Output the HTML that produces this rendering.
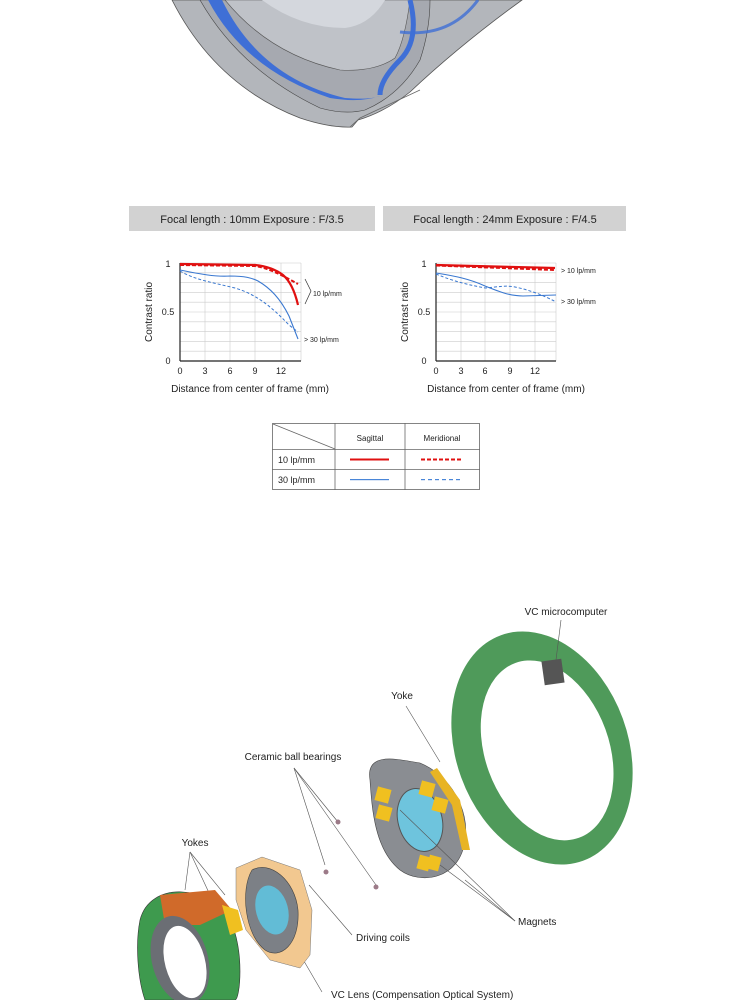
<!DOCTYPE html>
<html><head><style>
body{margin:0;background:#fff;}
svg{display:block;font-family:"Liberation Sans",sans-serif;}
</style></head><body>
<svg width="750" height="1000" viewBox="0 0 750 1000">
<!-- top lens -->
<path d="M172,0 Q215,85 300,118 Q330,128 352,127 L358,120 Q385,112 410,92 Q460,45 522,0 Z" fill="#b3b6bb" stroke="#555" stroke-width="0.8"/>
<path d="M200,0 Q240,70 320,108 Q345,115 365,110 Q400,95 420,60 Q430,30 430,0 Z" fill="#a6a9b0" stroke="#444" stroke-width="0.6"/>
<path d="M208,0 Q245,70 330,98 Q360,103 380,96 Q370,100 345,98 Q260,78 222,0 Z" fill="#3f6fd6"/>
<path d="M225,0 Q270,55 340,70 Q375,72 395,58 Q405,40 410,0 Z" fill="#bfc2c8" stroke="#555" stroke-width="0.6"/>
<path d="M262,0 Q300,28 345,28 Q370,25 385,0 Z" fill="#d4d7dd"/>
<path d="M410,0 Q420,40 400,60 Q380,80 380,95" fill="none" stroke="#3f6fd6" stroke-width="5"/>
<path d="M400,32 Q450,38 478,0" fill="none" stroke="#3f6fd6" stroke-width="3" opacity="0.8"/>
<path d="M350,127 L360,118 L420,90" fill="none" stroke="#666" stroke-width="0.8"/>

<!-- headers -->
<rect x="129" y="206" width="246" height="25" fill="#d2d2d2"/>
<rect x="383" y="206" width="243" height="25" fill="#d2d2d2"/>
<text x="252" y="223" font-size="11" text-anchor="middle" fill="#222">Focal length : 10mm  Exposure : F/3.5</text>
<text x="505" y="223" font-size="11" text-anchor="middle" fill="#222">Focal length : 24mm  Exposure : F/4.5</text>

<!-- chart 1 -->
<g stroke="#ccc" stroke-width="0.6">
<line x1="180" y1="272.8" x2="301" y2="272.8"/><line x1="180" y1="282.6" x2="301" y2="282.6"/><line x1="180" y1="292.4" x2="301" y2="292.4"/><line x1="180" y1="302.2" x2="301" y2="302.2"/><line x1="180" y1="312" x2="301" y2="312"/><line x1="180" y1="321.8" x2="301" y2="321.8"/><line x1="180" y1="331.6" x2="301" y2="331.6"/><line x1="180" y1="341.4" x2="301" y2="341.4"/><line x1="180" y1="351.2" x2="301" y2="351.2"/>
<line x1="205" y1="263" x2="205" y2="361"/><line x1="230" y1="263" x2="230" y2="361"/><line x1="255" y1="263" x2="255" y2="361"/><line x1="281" y1="263" x2="281" y2="361"/><line x1="301" y1="263" x2="301" y2="361"/>
<line x1="180" y1="263" x2="301" y2="263"/>
</g>
<g stroke="#222" stroke-width="1.2"><line x1="180" y1="263" x2="180" y2="361"/><line x1="180" y1="361" x2="301" y2="361"/></g>
<path d="M180,264 L255,265 C265,266 275,269 283,275 C290,281 295,292 298,305" fill="none" stroke="#e01010" stroke-width="2.2"/>
<path d="M180,265 L255,266 C268,268 280,274 298,284" fill="none" stroke="#e01010" stroke-width="2" stroke-dasharray="4,2"/>
<path d="M180,270 C200,274 215,277 230,276 C245,276 252,278 258,281 C270,288 280,298 289,316 L298,339" fill="none" stroke="#3a78d0" stroke-width="1.1"/>
<path d="M180,271 C195,280 215,283 235,288 C255,294 270,305 289,325 L298,332" fill="none" stroke="#3a78d0" stroke-width="1" stroke-dasharray="3,2"/>
<path d="M305,279 L311,291 L305,304" fill="none" stroke="#333" stroke-width="0.7"/>
<text x="313" y="296" font-size="7" fill="#222">10 lp/mm</text>
<text x="304" y="342" font-size="7" fill="#222">&gt; 30 lp/mm</text>
<g font-size="9" fill="#222" text-anchor="middle">
<text x="168" y="267">1</text><text x="168" y="315">0.5</text><text x="168" y="364">0</text>
<text x="180" y="374">0</text><text x="205" y="374">3</text><text x="230" y="374">6</text><text x="255" y="374">9</text><text x="281" y="374">12</text>
<text x="250" y="392" font-size="10">Distance from center of frame (mm)</text>
<text transform="translate(152,312) rotate(-90)" font-size="10">Contrast ratio</text>
</g>

<!-- chart 2 -->
<g stroke="#ccc" stroke-width="0.6">
<line x1="436" y1="272.8" x2="556" y2="272.8"/><line x1="436" y1="282.6" x2="556" y2="282.6"/><line x1="436" y1="292.4" x2="556" y2="292.4"/><line x1="436" y1="302.2" x2="556" y2="302.2"/><line x1="436" y1="312" x2="556" y2="312"/><line x1="436" y1="321.8" x2="556" y2="321.8"/><line x1="436" y1="331.6" x2="556" y2="331.6"/><line x1="436" y1="341.4" x2="556" y2="341.4"/><line x1="436" y1="351.2" x2="556" y2="351.2"/>
<line x1="461" y1="263" x2="461" y2="361"/><line x1="485" y1="263" x2="485" y2="361"/><line x1="510" y1="263" x2="510" y2="361"/><line x1="535" y1="263" x2="535" y2="361"/><line x1="556" y1="263" x2="556" y2="361"/>
<line x1="436" y1="263" x2="556" y2="263"/>
</g>
<g stroke="#222" stroke-width="1.2"><line x1="436" y1="263" x2="436" y2="361"/><line x1="436" y1="361" x2="556" y2="361"/></g>
<path d="M436,265 L555,268" fill="none" stroke="#e01010" stroke-width="2.2"/>
<path d="M436,265.5 L555,270" fill="none" stroke="#e01010" stroke-width="2" stroke-dasharray="4,2"/>
<path d="M436,273 C455,276 470,279 485,286 C500,292 510,296 523,296 L556,295" fill="none" stroke="#3a78d0" stroke-width="1.1"/>
<path d="M436,274 C455,282 470,285 485,288 C498,287 505,285 515,287 C530,290 545,296 556,302" fill="none" stroke="#3a78d0" stroke-width="1" stroke-dasharray="3,2"/>
<text x="561" y="273" font-size="7" fill="#222">&gt; 10 lp/mm</text>
<text x="561" y="304" font-size="7" fill="#222">&gt; 30 lp/mm</text>
<g font-size="9" fill="#222" text-anchor="middle">
<text x="424" y="267">1</text><text x="424" y="315">0.5</text><text x="424" y="364">0</text>
<text x="436" y="374">0</text><text x="461" y="374">3</text><text x="485" y="374">6</text><text x="510" y="374">9</text><text x="535" y="374">12</text>
<text x="506" y="392" font-size="10">Distance from center of frame (mm)</text>
<text transform="translate(408,312) rotate(-90)" font-size="10">Contrast ratio</text>
</g>

<!-- legend table -->
<g stroke="#666" stroke-width="0.8" fill="none">
<rect x="272.5" y="423.5" width="207" height="66"/>
<line x1="335" y1="423" x2="335" y2="490"/><line x1="405" y1="423" x2="405" y2="490"/>
<line x1="272" y1="449.5" x2="480" y2="449.5"/><line x1="272" y1="469.5" x2="480" y2="469.5"/>
<line x1="273" y1="424" x2="335" y2="449"/>
</g>
<g font-size="8" fill="#222">
<text x="370" y="441" text-anchor="middle">Sagittal</text>
<text x="442" y="441" text-anchor="middle">Meridional</text>
<text x="278" y="463" font-size="9">10 lp/mm</text>
<text x="278" y="483" font-size="9">30 lp/mm</text>
</g>
<line x1="350" y1="459.5" x2="389" y2="459.5" stroke="#e01010" stroke-width="2"/>
<line x1="421" y1="459.5" x2="462" y2="459.5" stroke="#e01010" stroke-width="2" stroke-dasharray="4,2"/>
<rect x="350" y="479" width="39" height="1.2" fill="#4a86d8"/>
<g fill="#4a86d8"><rect x="421" y="479" width="4" height="1.2"/><rect x="428" y="479" width="4" height="1.2"/><rect x="435" y="479" width="4" height="1.2"/><rect x="442" y="479" width="4" height="1.2"/><rect x="449" y="479" width="4" height="1.2"/><rect x="456" y="479" width="4" height="1.2"/></g>

<!-- green ring -->
<g transform="rotate(-20 542 748)">
<ellipse cx="542" cy="748" rx="86" ry="120" fill="#4f9a5a"/>
<ellipse cx="546" cy="752" rx="62" ry="93" fill="#fff"/>
</g>
<rect x="543" y="660" width="20" height="24" fill="#555" transform="rotate(-8 553 672)"/>
<line x1="561" y1="620" x2="556" y2="660" stroke="#555" stroke-width="0.6"/>
<text x="566" y="615" font-size="10" fill="#222" text-anchor="middle">VC microcomputer</text>

<!-- yoke/magnet assembly -->
<path d="M370,780 C365,750 400,760 420,763 C450,775 470,810 465,840 C460,880 420,885 400,870 C375,850 372,810 370,780 Z" fill="#8a8d92" stroke="#444" stroke-width="0.6"/>
<path d="M437,768 L460,800 L470,850 L462,850 L452,805 L430,772 Z" fill="#e8b424"/>
<ellipse cx="420" cy="820" rx="22" ry="32" fill="#6ec4dd" stroke="#555" transform="rotate(-15 420 820)"/>
<rect x="376" y="788" width="14" height="14" fill="#f0c020" transform="rotate(15 383 795)"/>
<rect x="377" y="806" width="14" height="14" fill="#f0c020" transform="rotate(15 384 813)"/>
<rect x="420" y="782" width="14" height="14" fill="#f0c020" transform="rotate(15 427 789)"/>
<rect x="433" y="798" width="14" height="14" fill="#f0c020" transform="rotate(15 440 805)"/>
<rect x="418" y="856" width="12" height="14" fill="#f0c020" transform="rotate(15 424 863)"/>
<rect x="428" y="856" width="12" height="14" fill="#f0c020" transform="rotate(15 434 863)"/>
<line x1="406" y1="706" x2="440" y2="762" stroke="#555" stroke-width="0.6"/>
<text x="402" y="699" font-size="10" fill="#222" text-anchor="middle">Yoke</text>
<g stroke="#555" stroke-width="0.6">
<line x1="515" y1="921" x2="465" y2="880"/><line x1="515" y1="921" x2="440" y2="865"/><line x1="515" y1="921" x2="400" y2="810"/>
<line x1="294" y1="768" x2="325" y2="865"/><line x1="294" y1="768" x2="338" y2="822"/><line x1="294" y1="768" x2="376" y2="885"/>
<line x1="190" y1="852" x2="185" y2="890"/><line x1="190" y1="852" x2="210" y2="895"/><line x1="190" y1="852" x2="225" y2="895"/>
<line x1="309" y1="885" x2="352" y2="935"/>
<line x1="280" y1="920" x2="322" y2="992"/>
</g>
<circle cx="338" cy="822" r="2.5" fill="#9c7a88"/><circle cx="326" cy="872" r="2.5" fill="#9c7a88"/><circle cx="376" cy="887" r="2.5" fill="#9c7a88"/>
<text x="518" y="925" font-size="10" fill="#222">Magnets</text>
<text x="293" y="760" font-size="10" fill="#222" text-anchor="middle">Ceramic ball bearings</text>
<text x="195" y="846" font-size="10" fill="#222" text-anchor="middle">Yokes</text>
<text x="356" y="941" font-size="10" fill="#222">Driving coils</text>
<text x="331" y="998" font-size="10" fill="#222">VC Lens (Compensation Optical System)</text>

<!-- driving coil assembly -->
<path d="M236,868 L262,857 L300,870 L312,910 L310,955 L300,968 L270,960 L246,930 L236,900 Z" fill="#f2c890" stroke="#777" stroke-width="0.5"/>
<path d="M252,870 C270,860 295,880 298,910 C300,945 280,960 265,950 C245,935 240,890 252,870 Z" fill="#7c8086" stroke="#444" stroke-width="0.6"/>
<ellipse cx="272" cy="910" rx="16" ry="25" fill="#62bcd6" transform="rotate(-15 272 910)"/>
<!-- yokes assembly -->
<path d="M140,920 C150,880 210,885 230,920 C245,950 240,1000 235,1000 L145,1000 C138,980 135,945 140,920 Z" fill="#3e9a4e" stroke="#333" stroke-width="0.6"/>
<path d="M160,895 L215,890 L232,910 L200,925 L165,925 Z" fill="#d06a2a"/>
<ellipse cx="180" cy="960" rx="28" ry="45" fill="#6b6e74" transform="rotate(-15 180 960)"/>
<ellipse cx="185" cy="962" rx="20" ry="37" fill="#fff" transform="rotate(-15 185 962)"/>
<path d="M222,905 L238,910 L243,930 L230,935 Z" fill="#f0c020"/>
</svg>
</body></html>
